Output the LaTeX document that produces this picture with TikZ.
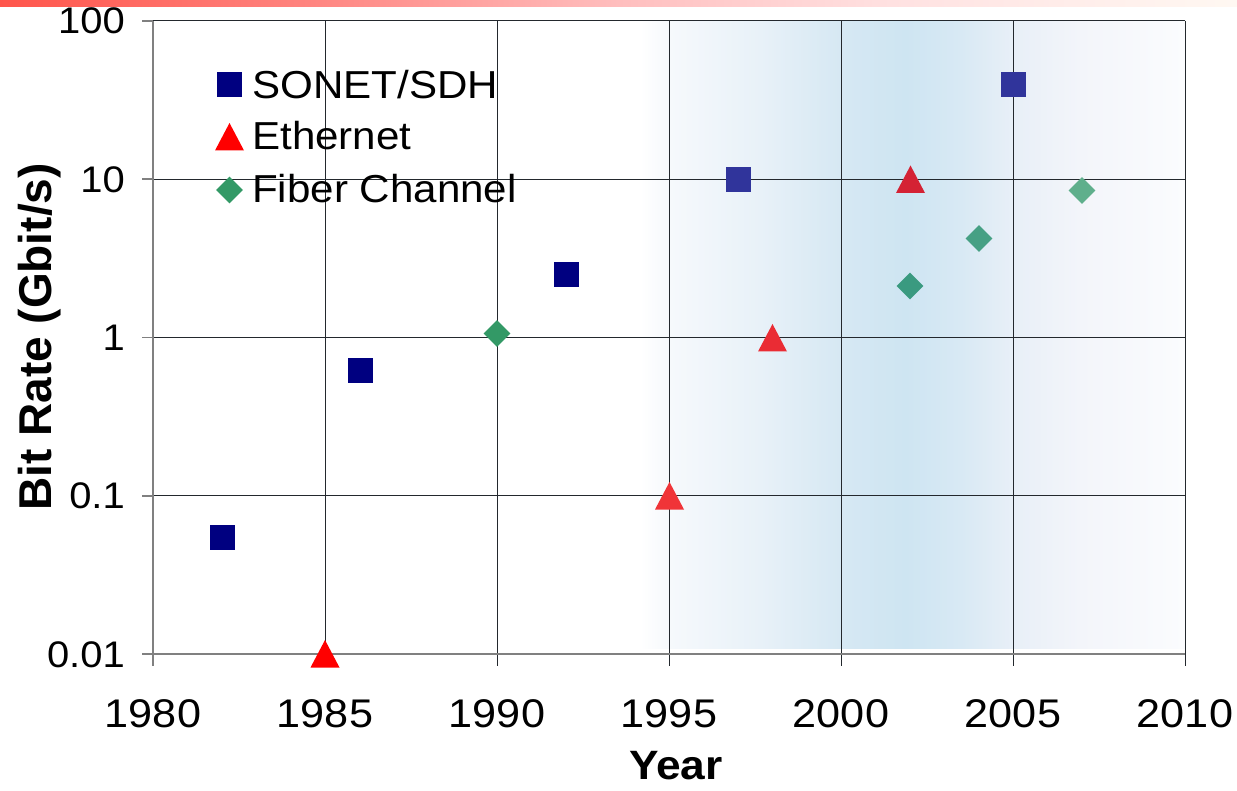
\documentclass[tikz,border=0pt]{standalone}
\usepackage{fontspec}
\setmainfont{Liberation Sans}[FakeStretch=1.08]
\newfontfamily\ylabfont{Liberation Sans}
\definecolor{barA}{RGB}{255,85,75}
\definecolor{barB}{RGB}{255,130,125}
\definecolor{barC}{RGB}{255,190,190}
\definecolor{barD}{RGB}{255,225,225}
\definecolor{barE}{RGB}{255,248,242}
\definecolor{sA}{RGB}{246,249,252}
\definecolor{sB}{RGB}{232,241,248}
\definecolor{sC}{RGB}{214,232,243}
\definecolor{sD}{RGB}{206,229,242}
\definecolor{sE}{RGB}{216,233,244}
\definecolor{sF}{RGB}{232,239,247}
\definecolor{sG}{RGB}{243,245,250}
\definecolor{sH}{RGB}{251,252,254}
\definecolor{navyc}{RGB}{0,0,128}
\definecolor{navys}{RGB}{48,52,155}
\definecolor{redc}{RGB}{255,0,0}
\definecolor{redA}{RGB}{240,52,56}
\definecolor{redB}{RGB}{234,44,52}
\definecolor{redC}{RGB}{212,34,52}
\definecolor{greenc}{RGB}{51,153,102}
\definecolor{greenA}{RGB}{58,154,128}
\definecolor{greenB}{RGB}{70,160,132}
\definecolor{greenC}{RGB}{95,175,140}
\definecolor{gridc}{RGB}{35,40,45}
\definecolor{axisc}{RGB}{128,128,128}
\pgfdeclarehorizontalshading{topbar}{100bp}{color(0bp)=(barA); color(25bp)=(barA); color(37bp)=(barB); color(50bp)=(barC); color(61bp)=(barD); color(75bp)=(barE); color(100bp)=(barE)}
\pgfdeclarehorizontalshading{band}{100bp}{color(0bp)=(white); color(25bp)=(white); color(28.4bp)=(white); color(30.9bp)=(sA); color(38.7bp)=(sB); color(45.6bp)=(sC); color(51.1bp)=(sD); color(55.8bp)=(sE); color(60.3bp)=(sF); color(66bp)=(sG); color(75bp)=(sH); color(100bp)=(sH)}
\tikzset{
  sqm/.pic={\fill[#1] (-12.5,-12.5) rectangle (12.5,12.5);},
  trim/.pic={\fill[#1] (-14.5,13.5) -- (14.5,13.5) -- (0,-14) -- cycle;},
  diam/.pic={\fill[#1] (-13.3,0) -- (0,-13.3) -- (13.3,0) -- (0,13.3) -- cycle;},
  gridline/.style={draw=gridc, line width=1pt},
  axisline/.style={draw=axisc, line width=1.6pt},
  ytick/.style={anchor=base east, inner sep=0pt, font=\fontsize{37}{44}\selectfont},
  xtick/.style={anchor=base, inner sep=0pt, font=\fontsize{40}{48}\selectfont},
  legtext/.style={anchor=base west, inner sep=0pt, font=\fontsize{39}{46}\selectfont}
}
\begin{document}
\begin{tikzpicture}[x=1pt,y=-1pt]
\useasboundingbox (0,0) rectangle (1237,791);
% top bar
\shade[shading=topbar] (0,0) rectangle (1237,6.5);
% shaded band
\shade[shading=band] (600,21) rectangle (1185,648);
% grid
\foreach \y in {179.25,337.5,495.75} \draw[gridline] (153,\y) -- (1185,\y);
\draw[gridline] (153,21) -- (1185,21);
\foreach \x in {325,497,669,841,1013} \draw[gridline] (\x,21) -- (\x,666);
\draw[gridline] (1185,21) -- (1185,666);
% axes
\draw[axisline] (153,21) -- (153,666);
\draw[axisline] (142,654) -- (1185,654);
\foreach \y in {21,179.25,337.5,495.75} \draw[axisline] (142,\y) -- (153,\y);
% y tick labels
\node[ytick] (y100) at (125,34) {100};
\node[ytick] (y10) at (125,192.25) {10};
\node[ytick] (y1) at (125,350.5) {1};
\node[ytick] (y01) at (125,508.75) {0.1};
\node[ytick] (y001) at (125,667) {0.01};
% x tick labels
\node[xtick] (x1980) at (153,727) {1980};
\node[xtick] (x1985) at (325,727) {1985};
\node[xtick] (x1990) at (497,727) {1990};
\node[xtick] (x1995) at (669,727) {1995};
\node[xtick] (x2000) at (841,727) {2000};
\node[xtick] (x2005) at (1013,727) {2005};
\node[xtick] (x2010) at (1185,727) {2010};
% axis titles
\node[anchor=base, inner sep=0pt, font=\fontsize{41}{48}\selectfont\bfseries] (xtitle) at (676,779) {Year};
\node[anchor=base, inner sep=0pt, rotate=90, font=\ylabfont\fontsize{46}{54}\selectfont\bfseries] (ytitle) at (51,337) {Bit Rate (Gbit/s)};
% legend
\pic at (229,85) {sqm=navyc};
\pic at (229.5,137) {trim=redc};
\pic at (229.5,190) {diam=greenc};
\node[legtext] (lsonet) at (252,98.3) {SONET/SDH};
\node[legtext] (leth) at (252,150) {Ethernet};
\node[legtext] (lfc) at (252,202.7) {Fiber Channel};
% SONET/SDH data
\pic at (222,537) {sqm=navyc};
\pic at (360,370.5) {sqm=navyc};
\pic at (566,275) {sqm=navyc};
\pic at (738.5,179.5) {sqm=navys};
\pic at (1013,84.5) {sqm=navys};
% Ethernet data
\pic at (325,654) {trim=redc};
\pic at (669.5,496) {trim=redA};
\pic at (772.5,338) {trim=redB};
\pic at (910.5,179.5) {trim=redC};
% Fiber Channel data
\pic at (497,333.5) {diam=greenc};
\pic at (910,286) {diam=greenA};
\pic at (979,238.5) {diam=greenB};
\pic at (1082,190.5) {diam=greenC};
\end{tikzpicture}
\end{document}
